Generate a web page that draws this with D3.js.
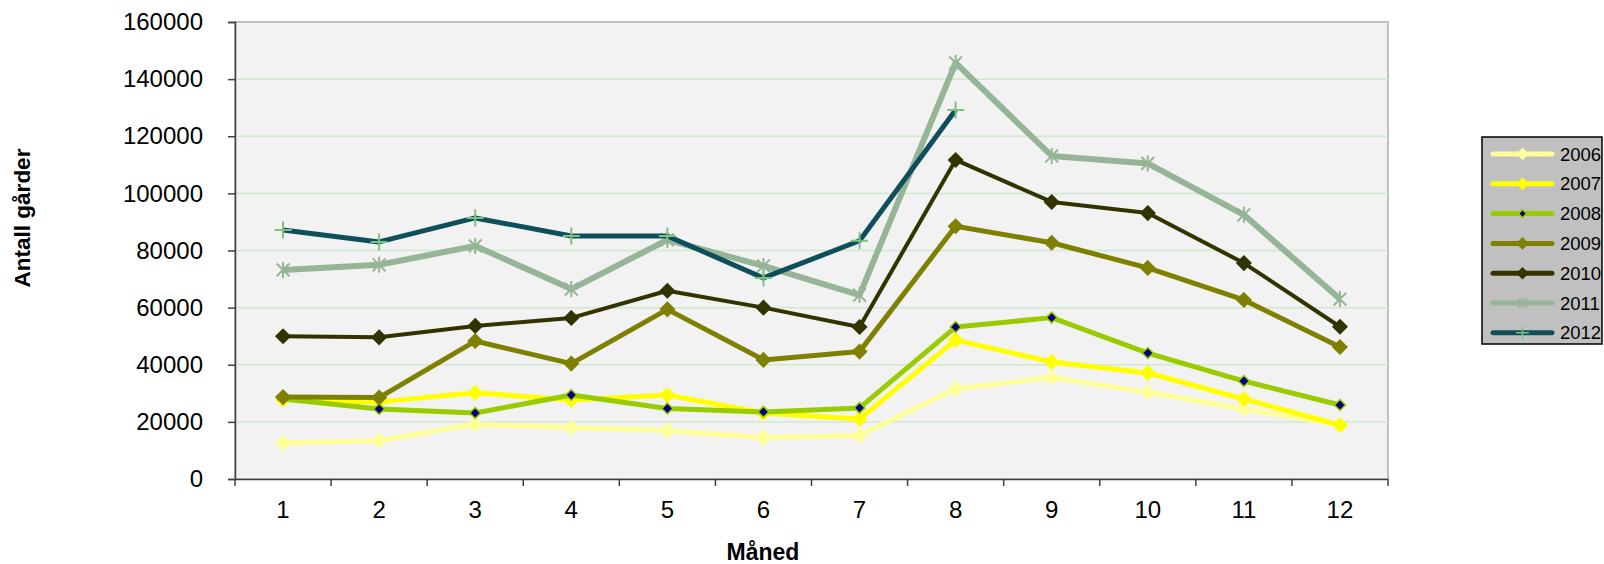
<!DOCTYPE html>
<html>
<head>
<meta charset="utf-8">
<script src="https://cdn.jsdelivr.net/npm/d3@7"></script>
<style>
  body { margin: 0; background: #fff; }
  svg { display: block; font-family: "Liberation Sans", Arial, sans-serif; }
</style>
</head>
<body>
<svg id="chart"></svg>
<script>
const months = [1, 2, 3, 4, 5, 6, 7, 8, 9, 10, 11, 12];
const years = ["2006", "2007", "2008", "2009", "2010", "2011", "2012"];
const v2006 = [12600, 13500, 19200, 18000, 17000, 14500, 15200, 31600, 35500, 30400, 24500, 18900];
const v2007 = [27800, 27000, 30200, 27700, 29400, 23100, 21000, 48600, 41000, 37100, 28000, 18900];
const v2008 = [28000, 24500, 23100, 29400, 24700, 23500, 24900, 53200, 56500, 44100, 34300, 25900];
const v2009 = [28700, 28500, 48300, 40400, 59400, 41700, 44600, 88500, 82700, 73900, 62700, 46200];
const v2010 = [50000, 49600, 53600, 56400, 65900, 60000, 53200, 111700, 97000, 93100, 75600, 53300];
const v2011 = [73200, 75000, 81600, 66500, 83700, 74600, 64400, 145700, 113100, 110500, 92500, 63000];
const v2012 = [87200, 83000, 91400, 85100, 85100, 70400, 83400, 129200];
const yTicks = [0, 20000, 40000, 60000, 80000, 100000, 120000, 140000, 160000];

const series = [
  { name: "2006", values: v2006, color: "#ffff99", width: 5, marker: "diamond", mFill: "#ffff99", mStroke: "#ffff99", mSize: 14 },
  { name: "2007", values: v2007, color: "#ffff00", width: 5, marker: "diamond", mFill: "#ffff00", mStroke: "#ffff00", mSize: 14 },
  { name: "2008", values: v2008, color: "#99cc00", width: 5, marker: "diamond", mFill: "#000080", mStroke: "#99cc00", mSize: 11 },
  { name: "2009", values: v2009, color: "#808000", width: 5, marker: "diamond", mFill: "#808000", mStroke: "#808000", mSize: 14 },
  { name: "2010", values: v2010, color: "#333300", width: 4, marker: "diamond", mFill: "#333300", mStroke: "#333300", mSize: 14 },
  { name: "2011", values: v2011, color: "#96b496", width: 6, marker: "star", mFill: "none", mStroke: "#96b496", mSize: 16 },
  { name: "2012", values: v2012, color: "#0f4f5c", width: 5, marker: "plus", mFill: "none", mStroke: "#80c080", mSize: 17 }
];

const width = 1604, height = 564;
const margin = { top: 22, right: 216, bottom: 85, left: 235 };
const font = "Liberation Sans, Arial, sans-serif";

const svg = d3.select("#chart").attr("width", width).attr("height", height);

const x = d3.scaleBand(months, [margin.left, width - margin.right]).padding(0);
const y = d3.scaleLinear([0, 160000], [height - margin.bottom, margin.top]);
const cx = (i) => x(months[i]) + x.bandwidth() / 2;

// marker shapes, r = half size
function markerPath(type, r) {
  if (type === "diamond") return `M0,${-r}L${r},0L0,${r}L${-r},0Z`;
  if (type === "plus") return `M0,${-r}V${r}M${-r},0H${r}`;
  // star: X plus vertical bar
  const a = r * 0.8;
  return `M${-a},${-a}L${a},${a}M${-a},${a}L${a},${-a}M0,${-r}V${r}`;
}

// plot area
svg.append("rect")
  .attr("x", margin.left).attr("y", margin.top)
  .attr("width", x.range()[1] - margin.left)
  .attr("height", y(0) - margin.top)
  .attr("fill", "#f2f2f2")
  .attr("stroke", "#c0c0c0")
  .attr("stroke-width", 2);

// gridlines
svg.append("g")
  .selectAll("line")
  .data(yTicks.filter((t) => t > 0 && t < 160000))
  .join("line")
  .attr("x1", margin.left).attr("x2", x.range()[1])
  .attr("y1", (d) => y(d)).attr("y2", (d) => y(d))
  .attr("stroke", "#cfe8cf")
  .attr("stroke-width", 1.5);

// y axis
svg.append("g")
  .attr("transform", `translate(${margin.left},0)`)
  .call(d3.axisLeft(y).tickValues(yTicks).tickSize(7).tickPadding(25).tickFormat(d3.format("d")))
  .call((g) => g.selectAll(".domain, .tick line").attr("stroke", "#404040").attr("stroke-width", 1.5))
  .call((g) => g.selectAll(".tick text").attr("font-size", 24).attr("fill", "#000")
    .attr("font-family", font));

// x axis
const xAxisG = svg.append("g")
  .attr("transform", `translate(0,${y(0)})`)
  .call(d3.axisBottom(x).tickSize(0).tickPadding(22))
  .call((g) => g.select(".domain").attr("stroke", "#404040").attr("stroke-width", 1.5))
  .call((g) => g.selectAll(".tick text").attr("font-size", 24).attr("fill", "#000")
    .attr("font-family", font));

// x tick marks at category boundaries
xAxisG.append("g")
  .selectAll("line")
  .data(months.map((m) => x(m)).concat([x.range()[1]]))
  .join("line")
  .attr("x1", (d) => d).attr("x2", (d) => d)
  .attr("y1", 0).attr("y2", 7)
  .attr("stroke", "#404040").attr("stroke-width", 1.5);

// lines and markers
const line = d3.line()
  .x((d, i) => cx(i))
  .y((d) => y(d));

const gSeries = svg.append("g")
  .selectAll("g")
  .data(series)
  .join("g");

gSeries.append("path")
  .attr("d", (s) => line(s.values))
  .attr("fill", "none")
  .attr("stroke", (s) => s.color)
  .attr("stroke-width", (s) => s.width)
  .attr("stroke-linejoin", "round");

gSeries.each(function (s) {
  d3.select(this).append("g")
    .selectAll("path")
    .data(s.values)
    .join("path")
    .attr("transform", (d, i) => `translate(${cx(i)},${y(d)})`)
    .attr("d", markerPath(s.marker, s.mSize / 2))
    .attr("fill", s.mFill)
    .attr("stroke", s.mStroke)
    .attr("stroke-width", s.marker === "diamond" ? 1.5 : 2);
});

// axis titles
svg.append("text")
  .attr("transform", `translate(30,218) rotate(-90)`)
  .attr("text-anchor", "middle")
  .attr("font-size", 22.5).attr("font-weight", "bold")
  .text("Antall gårder");

svg.append("text")
  .attr("x", 763).attr("y", 560)
  .attr("text-anchor", "middle")
  .attr("font-size", 23).attr("font-weight", "bold")
  .text("Måned");

// legend
const legend = svg.append("g").attr("transform", "translate(1482,137)");
legend.append("rect")
  .attr("width", 120).attr("height", 207)
  .attr("fill", "#c0c0c0")
  .attr("stroke", "#000").attr("stroke-width", 1.5);

const item = legend.selectAll("g.item")
  .data(series)
  .join("g")
  .attr("class", "item")
  .attr("transform", (s, i) => `translate(0,${17 + i * 29.8})`);

item.append("line")
  .attr("x1", 11).attr("x2", 70)
  .attr("stroke", (s) => s.color)
  .attr("stroke-width", 5)
  .attr("stroke-linecap", "round");

item.append("path")
  .attr("transform", "translate(40.5,0)")
  .attr("d", (s) => markerPath(s.marker, s.mSize / 2 * 0.75))
  .attr("fill", (s) => s.mFill)
  .attr("stroke", (s) => s.mStroke)
  .attr("stroke-width", 1.5);

item.append("text")
  .attr("x", 78).attr("dy", "0.36em")
  .attr("font-size", 18.5)
  .text((s) => s.name);
</script>
</body>
</html>
